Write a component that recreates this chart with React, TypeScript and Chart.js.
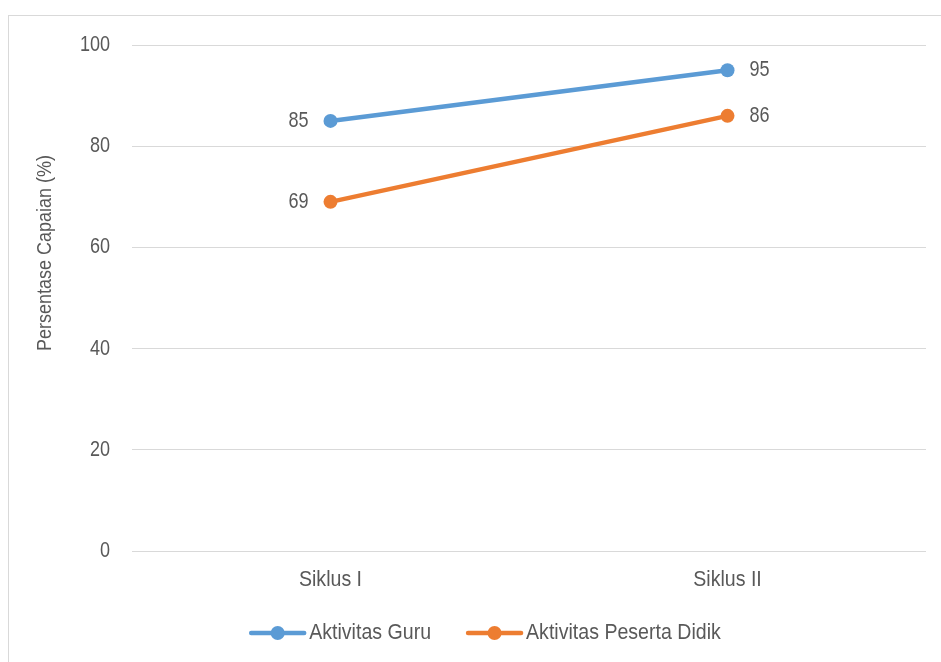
import React, { useEffect, useRef } from "react";
import { Chart, registerables } from "chart.js";

Chart.register(...registerables);

const categories = ["Siklus I", "Siklus II"];
const guruValues = [85, 95];
const pesertaValues = [69, 86];
const seriesNames = ["Aktivitas Guru", "Aktivitas Peserta Didik"];
const yTitle = "Persentase Capaian (%)";
const yMin = 0;
const yMax = 100;
const yStep = 20;

const BLUE = "#5B9BD5";
const ORANGE = "#ED7D31";
const TEXT = "#595959";
const GRID = "#D9D9D9";
const FONT = "'Liberation Sans', Arial, sans-serif";
const FS = 22;
const SX = 0.89;
const SXN = 0.82;

function txt(ctx: CanvasRenderingContext2D, s: string, x: number, y: number, align: CanvasTextAlign, rot = 0, size = FS, sx = SX) {
  ctx.save();
  ctx.translate(x, y);
  if (rot) ctx.rotate(rot);
  ctx.scale(sx, 1);
  ctx.font = `${size}px ${FONT}`;
  ctx.textAlign = align;
  ctx.textBaseline = "middle";
  ctx.fillText(s, 0, 0);
  ctx.restore();
}

const extras = {
  id: "extras",
  afterDraw(chart: any) {
    const ctx = chart.ctx as CanvasRenderingContext2D;
    const xs = chart.scales.x;
    const ys = chart.scales.y;
    ctx.save();
    ctx.fillStyle = TEXT;
    // y ticks
    for (let v = yMin; v <= yMax; v += yStep) {
      txt(ctx, String(v), chart.chartArea.left - 22, ys.getPixelForValue(v), "right", 0, FS, SXN);
    }
    // x ticks
    categories.forEach((c, i) => {
      txt(ctx, c, xs.getPixelForValue(i), chart.chartArea.bottom + 29, "center");
    });
    // y title
    txt(ctx, yTitle, 36, 237, "center", -Math.PI / 2, 20, 0.9);
    // data labels
    chart.data.datasets.forEach((ds: any, di: number) => {
      const meta = chart.getDatasetMeta(di);
      meta.data.forEach((pt: any, i: number) => {
        const v = ds.data[i];
        if (i === 0) txt(ctx, String(v), pt.x - 22, pt.y, "right", 0, FS, SXN);
        else txt(ctx, String(v), pt.x + 22, pt.y, "left", 0, FS, SXN);
      });
    });
    // legend
    const colors = [BLUE, ORANGE];
    const sample = 57;
    const gapText = 3;
    const gapItem = 35;
    ctx.font = `${FS}px ${FONT}`;
    const widths = seriesNames.map((n) => ctx.measureText(n).width * SX);
    const total = widths.reduce((a, w) => a + sample + gapText + w, 0) + gapItem;
    const cx = 476;
    let x = cx - total / 2;
    const ly = 617;
    seriesNames.forEach((n, i) => {
      ctx.strokeStyle = colors[i];
      ctx.lineWidth = 4.5;
      ctx.lineCap = "round";
      ctx.beginPath();
      ctx.moveTo(x + 2, ly);
      ctx.lineTo(x + sample - 2, ly);
      ctx.stroke();
      ctx.fillStyle = colors[i];
      ctx.beginPath();
      ctx.arc(x + sample / 2, ly, 7, 0, Math.PI * 2);
      ctx.fill();
      ctx.fillStyle = TEXT;
      txt(ctx, n, x + sample + gapText, ly, "left");
      x += sample + gapText + widths[i] + gapItem;
    });
    ctx.restore();
  },
};

export default function App() {
  const ref = useRef<HTMLCanvasElement>(null);
  useEffect(() => {
    if (!ref.current) return;
    const chart = new Chart(ref.current, {
      type: "line",
      data: {
        labels: categories,
        datasets: [
          {
            label: seriesNames[0],
            data: guruValues,
            borderColor: BLUE,
            backgroundColor: BLUE,
            borderWidth: 4.5,
            pointRadius: 7,
            pointBorderWidth: 0,
            pointBackgroundColor: BLUE,
            borderCapStyle: "round",
          },
          {
            label: seriesNames[1],
            data: pesertaValues,
            borderColor: ORANGE,
            backgroundColor: ORANGE,
            borderWidth: 4.5,
            pointRadius: 7,
            pointBorderWidth: 0,
            pointBackgroundColor: ORANGE,
            borderCapStyle: "round",
          },
        ],
      },
      options: {
        responsive: false,
        animation: false,
        devicePixelRatio: 1,
        layout: { padding: { left: 0, right: 15, top: 29, bottom: 0 } },
        plugins: { legend: { display: false }, tooltip: { enabled: false } },
        scales: {
          x: {
            offset: true,
            grid: { display: false, drawTicks: false },
            border: { display: false },
            ticks: { display: false },
            afterFit(s: any) {
              s.height = 111;
            },
          },
          y: {
            min: yMin,
            max: yMax,
            ticks: { stepSize: yStep, display: false },
            grid: { color: GRID, lineWidth: 1, drawTicks: false },
            border: { display: false },
            afterFit(s: any) {
              s.width = 123;
            },
          },
        },
      },
      plugins: [extras],
    });
    return () => chart.destroy();
  }, []);
  return (
    <div
      style={{
        position: "absolute",
        left: 8,
        top: 15,
        width: 960,
        height: 700,
        border: "1px solid #D9D9D9",
        boxSizing: "border-box",
        background: "#fff",
      }}
    >
      <canvas ref={ref} width={932} height={646} style={{ display: "block" }} />
    </div>
  );
}
